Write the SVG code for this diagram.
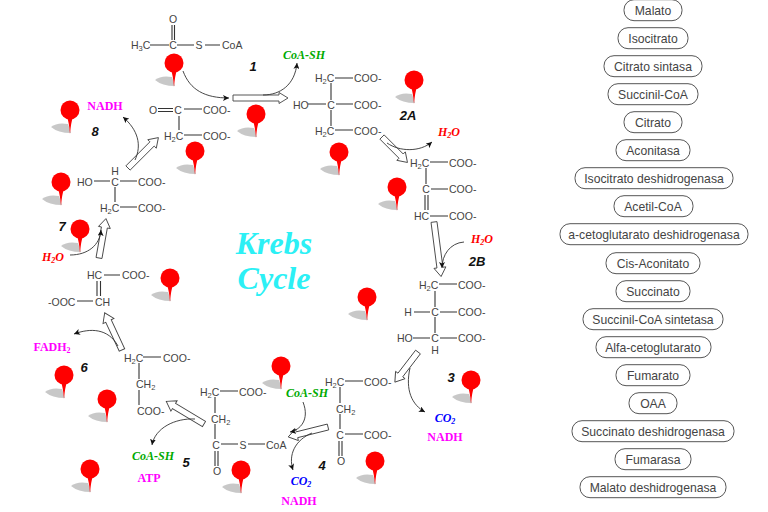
<svg xmlns="http://www.w3.org/2000/svg" width="768" height="512" viewBox="0 0 768 512">
<style>
text{font-family:"Liberation Sans",Arial,sans-serif}
.m{font-size:10.5px;fill:#444}
.e{text-anchor:middle}
.b{stroke:#333;stroke-width:1.1;fill:none}
.ba{fill:#fff;stroke:#444;stroke-width:.9}
.c{fill:none;stroke:#333;stroke-width:.9;marker-end:url(#h)}
.p{font-family:"Liberation Serif","Times New Roman",serif;font-weight:bold;font-size:12px;text-anchor:middle}
.i{font-style:italic}
.n{font-weight:bold;font-style:italic;font-size:13px;fill:#111;text-anchor:middle}
.pill{fill:#fff;stroke:#555;stroke-width:1}
.t{font-size:12.2px;fill:#444;text-anchor:middle}
.k{font-family:"Liberation Serif","Times New Roman",serif;font-weight:bold;font-style:italic;font-size:32px;fill:#2cf0f5;text-anchor:middle}
</style>
<defs>
<marker id="h" markerWidth="7" markerHeight="6" refX="6" refY="3" orient="auto" markerUnits="userSpaceOnUse"><path d="M0 0L6 3L0 6L1.500 3Z" fill="#111"/></marker>
<g id="pin">
<path d="M-19 17Q-13 12 -2 14L1 23Q-12 23 -19 17Z" fill="#c8c8c8"/>
<path d="M-3 7Q-1 12 0 24Q1 12 3 7Z" fill="#f00"/>
<circle r="9.500" fill="#f00"/>
</g>
</defs>
<rect width="768" height="512" fill="#fff"/>

<g id="pins">
<use href="#pin" x="174" y="63"/><use href="#pin" x="256" y="114"/><use href="#pin" x="195" y="151"/>
<use href="#pin" x="414" y="80"/><use href="#pin" x="339" y="152"/><use href="#pin" x="397" y="187"/>
<use href="#pin" x="367" y="297"/><use href="#pin" x="471" y="380"/><use href="#pin" x="375" y="461"/>
<use href="#pin" x="281" y="366"/><use href="#pin" x="241" y="470"/><use href="#pin" x="90" y="469"/>
<use href="#pin" x="107" y="399"/><use href="#pin" x="64" y="375"/><use href="#pin" x="170" y="278"/>
<use href="#pin" x="80" y="229"/><use href="#pin" x="61" y="182"/><use href="#pin" x="70" y="110"/>
</g>

<g id="acetil-coa">
<path class="b" d="M172 25V40M174.500 25V40M150 45H169M177 45H194M205 45H220"/>
<text class="m e" x="173" y="23">O</text>
<text class="m" x="131" y="49">H<tspan font-size="7.500" dy="2">3</tspan><tspan dy="-2">C</tspan></text>
<text class="m e" x="173" y="49">C</text><text class="m e" x="199" y="49">S</text>
<text class="m" x="222" y="49">CoA</text>
</g>
<g id="oaa">
<path class="b" d="M158 108.500H173M158 111.500H173M184 109H202M179 116V130M184 135H202"/>
<text class="m e" x="153" y="114">O</text><text class="m e" x="178" y="114">C</text>
<text class="m" x="203" y="114">COO-</text>
<text class="m" x="164" y="140">H<tspan font-size="7.500" dy="2">2</tspan><tspan dy="-2">C</tspan></text>
<text class="m" x="203" y="140">COO-</text>
</g>
<g id="citrato">
<path class="b" d="M335 78H353M331 83V100M308 104H326M336 104H353M331 110V126M335 130H353"/>
<text class="m" x="315" y="82">H<tspan font-size="7.500" dy="2">2</tspan><tspan dy="-2">C</tspan></text>
<text class="m" x="354" y="82">COO-</text>
<text class="m" x="293" y="109">HO</text><text class="m e" x="331" y="109">C</text>
<text class="m" x="354" y="109">COO-</text>
<text class="m" x="315" y="135">H<tspan font-size="7.500" dy="2">2</tspan><tspan dy="-2">C</tspan></text>
<text class="m" x="354" y="135">COO-</text>
</g>
<g id="cis-aconitato">
<path class="b" d="M430 162H448M426 168V184M431 189H448M425 195V210M428 195V210M430 216H448"/>
<text class="m" x="410" y="167">H<tspan font-size="7.500" dy="2">2</tspan><tspan dy="-2">C</tspan></text>
<text class="m" x="449" y="167">COO-</text>
<text class="m e" x="426" y="193">C</text><text class="m" x="449" y="193">COO-</text>
<text class="m" x="414" y="220">HC</text><text class="m" x="449" y="220">COO-</text>
</g>
<g id="isocitrato">
<path class="b" d="M439 284H457M435 291V307M414 312H430M440 312H457M435 317V333M413 338H430M440 338H457"/>
<text class="m" x="419" y="289">H<tspan font-size="7.500" dy="2">2</tspan><tspan dy="-2">C</tspan></text>
<text class="m" x="458" y="289">COO-</text>
<text class="m e" x="408" y="316">H</text><text class="m e" x="435" y="316">C</text>
<text class="m" x="458" y="316">COO-</text>
<text class="m" x="397" y="342">HO</text><text class="m e" x="435" y="342">C</text>
<text class="m" x="458" y="342">COO-</text>
<text class="m e" x="435" y="353.500">H</text>
</g>
<g id="alfa-cetoglutarato">
<path class="b" d="M345 381H363M340 387V403M340 414V429M345 434H363M339 441V456M342 441V456"/>
<text class="m" x="325" y="386">H<tspan font-size="7.500" dy="2">2</tspan><tspan dy="-2">C</tspan></text>
<text class="m" x="364" y="386">COO-</text>
<text class="m" x="336" y="413">CH<tspan font-size="7.500" dy="2">2</tspan></text>
<text class="m e" x="340" y="439">C</text><text class="m" x="364" y="439">COO-</text>
<text class="m e" x="341" y="465">O</text>
</g>
<g id="succinil-coa">
<path class="b" d="M220 391H238M215 397V413M215 424V439M221 444H238M248 444H265M215 451V466M218 451V466"/>
<text class="m" x="200" y="396">H<tspan font-size="7.500" dy="2">2</tspan><tspan dy="-2">C</tspan></text>
<text class="m" x="239" y="396">COO-</text>
<text class="m" x="211" y="423">CH<tspan font-size="7.500" dy="2">2</tspan></text>
<text class="m e" x="216" y="449">C</text><text class="m e" x="243" y="449">S</text>
<text class="m" x="266" y="449">CoA</text><text class="m e" x="217" y="475">O</text>
</g>
<g id="succinato">
<path class="b" d="M143 357H161M139 363V379M139 390V405"/>
<text class="m" x="124" y="362">H<tspan font-size="7.500" dy="2">2</tspan><tspan dy="-2">C</tspan></text>
<text class="m" x="163" y="362">COO-</text>
<text class="m" x="136" y="388">CH<tspan font-size="7.500" dy="2">2</tspan></text>
<text class="m" x="137" y="415">COO-</text>
</g>
<g id="fumarato">
<path class="b" d="M104 275H120M97 281V296M100.500 281V296M77 301H93"/>
<text class="m" x="87" y="279">HC</text><text class="m" x="122" y="279">COO-</text>
<text class="m" x="48" y="306">-OOC</text><text class="m" x="95" y="306">CH</text>
</g>
<g id="malato">
<path class="b" d="M94 181H110M120 181H137M115 187V202M120 207H137"/>
<text class="m" x="77" y="186">HO</text><text class="m e" x="115" y="186">C</text>
<text class="m e" x="115" y="175">H</text><text class="m" x="138" y="186">COO-</text>
<text class="m" x="100" y="212">H<tspan font-size="7.500" dy="2">2</tspan><tspan dy="-2">C</tspan></text>
<text class="m" x="138" y="212">COO-</text>
</g>

<g id="connectors">
<path class="ba" transform="translate(233 98)" d="M0 -3H46V-5.500L55 0L46 5.500V3H0Z"/>
<path class="ba" transform="translate(128 168) rotate(-45)" d="M0 -3H34V-6L43 0L34 6V3H0Z"/>
<path class="ba" transform="translate(382 137) rotate(45)" d="M0 -3H27V-6L36 0L27 6V3H0Z"/>
<path class="ba" transform="translate(434 222) rotate(82.600)" d="M0 -3H46V-6L55 0L46 6V3H0Z"/>
<path class="ba" transform="translate(418 352) rotate(127.500)" d="M0 -3H29V-6L38 0L29 6V3H0Z"/>
<path class="ba" transform="translate(328 427) rotate(166)" d="M0 -3H32V-6L41 0L32 6V3H0Z"/>
<path class="ba" transform="translate(204 424) rotate(211)" d="M0 -3H35V-6L44 0L35 6V3H0Z"/>
<path class="ba" transform="translate(122 350) rotate(245)" d="M0 -3H32V-6L41 0L32 6V3H0Z"/>
<path class="ba" transform="translate(99 258) rotate(-80)" d="M0 -3H31V-6L40 0L31 6V3H0Z"/>
<path class="c" d="M183 71C190 90 205 98 229 98"/>
<path class="c" d="M263 95C280 95 295 85 297 63"/>
<path class="c" d="M135 160C142 145 138 130 123 117"/>
<path class="c" d="M387 143C400 152 420 152 432 142"/>
<path class="c" d="M464 242C450 243 442 255 442 268"/>
<path class="c" d="M410 368C405 390 412 405 425 412"/>
<path class="c" d="M303 402C310 420 300 430 290 432"/>
<path class="c" d="M312 433C295 440 288 455 293 470"/>
<path class="c" d="M195 419C175 418 155 428 152 445"/>
<path class="c" d="M118 346C108 328 90 328 74 334"/>
<path class="c" d="M70 255C88 255 100 245 101 230"/>
</g>

<g id="labels">
<text class="p i" x="304" y="59" fill="#0a0">CoA-SH</text>
<text class="p" x="105" y="110" fill="#f0f">NADH</text>
<text class="p i" x="449" y="136" fill="#f00">H<tspan font-size="8" dy="2">2</tspan><tspan dy="-2">O</tspan></text>
<text class="p i" x="482" y="243" fill="#f00">H<tspan font-size="8" dy="2">2</tspan><tspan dy="-2">O</tspan></text>
<text class="p i" x="53" y="261" fill="#f00">H<tspan font-size="8" dy="2">2</tspan><tspan dy="-2">O</tspan></text>
<text class="p i" x="445" y="422" fill="#00f">CO<tspan font-size="8" dy="2">2</tspan></text>
<text class="p" x="445" y="441" fill="#f0f">NADH</text>
<text class="p i" x="307" y="397" fill="#0a0">CoA-SH</text>
<text class="p i" x="301" y="485" fill="#00f">CO<tspan font-size="8" dy="2">2</tspan></text>
<text class="p" x="299" y="505" fill="#f0f">NADH</text>
<text class="p i" x="153" y="460" fill="#0a0">CoA-SH</text>
<text class="p" x="149" y="482" fill="#f0f">ATP</text>
<text class="p" x="52" y="351" fill="#f0f">FADH<tspan font-size="8" dy="2">2</tspan></text>
<text class="n" x="253" y="71">1</text><text class="n" x="408" y="120">2A</text>
<text class="n" x="477" y="266">2B</text><text class="n" x="451" y="382">3</text>
<text class="n" x="322" y="470">4</text><text class="n" x="186" y="467">5</text>
<text class="n" x="84" y="372">6</text><text class="n" x="62" y="231">7</text>
<text class="n" x="95" y="136">8</text>
<text class="k" x="274" y="254">Krebs</text><text class="k" x="274" y="289">Cycle</text>
</g>

<g id="pills" transform="translate(0 .7)">
<g id="n1"><rect class="pill" x="624" y="-1" width="58" height="21" rx="10"/><text class="t" x="653" y="14">Malato</text></g>
<g id="n2"><rect class="pill" x="618" y="27" width="70" height="21" rx="10"/><text class="t" x="653" y="42">Isocitrato</text></g>
<g id="n3"><rect class="pill" x="604" y="55" width="98" height="21" rx="10"/><text class="t" x="653" y="70">Citrato sintasa</text></g>
<g id="n4"><rect class="pill" x="608" y="83" width="90" height="21" rx="10"/><text class="t" x="653" y="98">Succinil-CoA</text></g>
<g id="n5"><rect class="pill" x="624" y="111" width="58" height="21" rx="10"/><text class="t" x="653" y="126">Citrato</text></g>
<g id="n6"><rect class="pill" x="616" y="139" width="74" height="21" rx="10"/><text class="t" x="653" y="154">Aconitasa</text></g>
<g id="n7"><rect class="pill" x="575" y="167" width="158" height="21" rx="10"/><text class="t" x="654" y="182">Isocitrato deshidrogenasa</text></g>
<g id="n8"><rect class="pill" x="614" y="195" width="79" height="21" rx="10"/><text class="t" x="653" y="210">Acetil-CoA</text></g>
<g id="n9"><rect class="pill" x="560" y="223" width="188" height="21" rx="10"/><text class="t" x="654" y="238">a-cetoglutarato deshidrogenasa</text></g>
<g id="n10"><rect class="pill" x="606" y="252" width="94" height="21" rx="10"/><text class="t" x="653" y="267">Cis-Aconitato</text></g>
<g id="n11"><rect class="pill" x="616" y="280" width="74" height="21" rx="10"/><text class="t" x="653" y="295">Succinato</text></g>
<g id="n12"><rect class="pill" x="583" y="308" width="140" height="21" rx="10"/><text class="t" x="653" y="323">Succinil-CoA sintetasa</text></g>
<g id="n13"><rect class="pill" x="596" y="336" width="115" height="21" rx="10"/><text class="t" x="653" y="351">Alfa-cetoglutarato</text></g>
<g id="n14"><rect class="pill" x="616" y="364" width="74" height="21" rx="10"/><text class="t" x="653" y="379">Fumarato</text></g>
<g id="n15"><rect class="pill" x="629" y="392" width="48" height="21" rx="10"/><text class="t" x="653" y="407">OAA</text></g>
<g id="n16"><rect class="pill" x="572" y="420" width="162" height="21" rx="10"/><text class="t" x="653" y="435">Succinato deshidrogenasa</text></g>
<g id="n17"><rect class="pill" x="615" y="448" width="76" height="21" rx="10"/><text class="t" x="653" y="463">Fumarasa</text></g>
<g id="n18"><rect class="pill" x="580" y="476" width="146" height="21" rx="10"/><text class="t" x="653" y="491">Malato deshidrogenasa</text></g>
</g>
</svg>
